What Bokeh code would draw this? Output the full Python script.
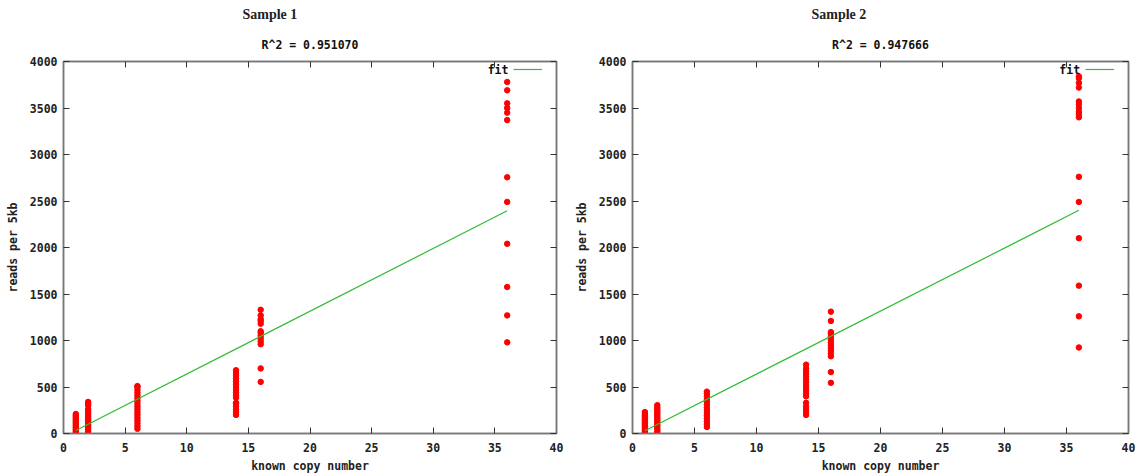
from bokeh.plotting import figure
from bokeh.models import (LinearAxis, Range1d, Title, Label, Legend, LegendItem,
                          FixedTicker, ColumnDataSource)
from bokeh.layouts import row
from bokeh.embed import file_html
from bokeh.resources import INLINE

MONO = "DejaVu Sans Mono"
SERIF = "Liberation Serif"

x_ticks = [0, 5, 10, 15, 20, 25, 30, 35, 40]
y_ticks = [0, 500, 1000, 1500, 2000, 2500, 3000, 3500, 4000]

copy_numbers = [1, 2, 6, 14, 16, 36]

# ---- Sample 1 reads per 5kb, by known copy number ----
s1_cn1 = [0, 15, 30, 45, 60, 75, 90, 105, 120, 135, 150, 165, 180, 195, 210]
s1_cn2 = [0, 20, 40, 60, 80, 100, 120, 140, 160, 180, 200, 220, 240, 260, 300, 320, 340]
s1_cn6 = [50, 80, 110, 140, 170, 200, 230, 260, 290, 320, 350, 380, 410, 440, 470, 500, 510]
s1_cn14 = [200, 230, 260, 290, 320, 330, 385, 410, 440, 470, 500, 530, 560, 590, 620, 650, 680]
s1_cn16 = [555, 700, 960, 990, 1020, 1050, 1080, 1100, 1180, 1210, 1230, 1270, 1330]
s1_cn36 = [980, 1270, 1575, 2040, 2490, 2755, 3370, 3450, 3500, 3550, 3690, 3780]
s1_fit_x = [1, 36]
s1_fit_y = [32, 2395]
s1_r2 = "R^2 = 0.951070"

# ---- Sample 2 ----
s2_cn1 = [0, 15, 30, 45, 60, 75, 90, 105, 120, 135, 150, 165, 180, 195, 210, 230]
s2_cn2 = [0, 20, 40, 60, 80, 100, 120, 140, 160, 180, 200, 220, 240, 260, 280, 305]
s2_cn6 = [70, 100, 130, 160, 190, 220, 250, 280, 310, 340, 370, 400, 430, 450]
s2_cn14 = [200, 230, 260, 290, 330, 400, 430, 460, 490, 520, 550, 580, 610, 640, 670, 700, 740]
s2_cn16 = [545, 660, 830, 860, 890, 920, 950, 980, 1010, 1040, 1070, 1090, 1210, 1310]
s2_cn36 = [925, 1260, 1590, 2100, 2490, 2760, 3400, 3430, 3460, 3500, 3540, 3570, 3720, 3770, 3820, 3840]
s2_fit_x = [1, 36]
s2_fit_y = [30, 2400]
s2_r2 = "R^2 = 0.947666"

# legend text anchor (data units)
fit_label_x = 36.1
fit_label_y = 3905


def style_axis(ax, show_labels=True):
    ax.axis_line_color = "#777777"
    ax.axis_line_width = 1.5
    ax.major_tick_in = 6
    ax.major_tick_out = 0
    ax.major_tick_line_color = "#333333"
    ax.minor_tick_line_color = None
    ax.major_label_text_font = MONO
    ax.major_label_text_font_style = "bold"
    ax.major_label_text_font_size = "11.5px"
    ax.major_label_text_color = "#222222"
    ax.axis_label_text_font = MONO
    ax.axis_label_text_font_style = "bold"
    ax.axis_label_text_font_size = "11.5px"
    ax.axis_label_text_color = "#222222"
    if not show_labels:
        ticks = ax.ticker.ticks
        ax.major_label_overrides = {t: "" for t in ticks}
        ax.major_label_text_color = None
        ax.major_label_text_font_size = "1px"
        ax.major_label_standoff = 0


def make_panel(name, r2, groups, fit_x, fit_y, border_left, border_right):
    p = figure(width=568, height=475, output_backend="svg", toolbar_location=None,
               x_range=Range1d(0, 40), y_range=Range1d(0, 4000),
               min_border_left=border_left, min_border_right=border_right,
               min_border_top=61, min_border_bottom=39)
    p.xgrid.visible = False
    p.ygrid.visible = False
    p.outline_line_color = "#777777"
    p.outline_line_width = 1.5
    p.background_fill_color = "white"
    p.border_fill_color = "white"

    p.xaxis.ticker = FixedTicker(ticks=x_ticks)
    p.yaxis.ticker = FixedTicker(ticks=y_ticks)
    p.xaxis.axis_label = "known copy number"
    p.yaxis.axis_label = "reads per 5kb"
    for ax in p.xaxis + p.yaxis:
        style_axis(ax)
    p.xaxis.major_label_standoff = 9
    p.xaxis.axis_label_standoff = 4
    p.yaxis.major_label_standoff = 6
    p.yaxis.axis_label_standoff = 7

    top = LinearAxis(ticker=FixedTicker(ticks=x_ticks))
    style_axis(top, False)
    p.add_layout(top, "above")
    right = LinearAxis(ticker=FixedTicker(ticks=y_ticks))
    style_axis(right, False)
    p.add_layout(right, "right")

    xs, ys = [], []
    for cn, vals in zip(copy_numbers, groups):
        xs += [cn] * len(vals)
        ys += vals
    src = ColumnDataSource(dict(x=xs, y=ys))
    p.scatter("x", "y", source=src, marker="circle", size=5.5,
              fill_color="#ff0000", line_color="#ff0000")

    fit = p.line(fit_x, fit_y, line_color="#33bb33", line_width=1.2)

    legend = Legend(items=[LegendItem(label=" ", renderers=[fit])],
                    location="top_right", border_line_color=None,
                    background_fill_alpha=0, margin=0, padding=8,
                    glyph_width=29, glyph_height=16, label_height=16,
                    label_width=0, label_standoff=14,
                    label_text_font_size="11.5px", label_text_font=MONO)
    p.add_layout(legend)
    p.add_layout(Label(x=fit_label_x, y=fit_label_y, text="fit", text_align="right",
                       text_baseline="middle", text_font=MONO, text_font_style="bold",
                       text_font_size="11.5px", text_color="#111111"))

    p.add_layout(Title(text=r2, align="center", standoff=20, text_font=MONO,
                       text_font_style="bold", text_font_size="11.5px",
                       text_color="#111111"), "above")
    p.add_layout(Title(text=name, align="left", offset=179, standoff=7, text_font=SERIF,
                       text_font_style="bold", text_font_size="14px",
                       text_color="#222222"), "above")
    return p


p1 = make_panel("Sample 1", s1_r2,
                [s1_cn1, s1_cn2, s1_cn6, s1_cn14, s1_cn16, s1_cn36],
                s1_fit_x, s1_fit_y, 63, 12)
p2 = make_panel("Sample 2", s2_r2,
                [s2_cn1, s2_cn2, s2_cn6, s2_cn14, s2_cn16, s2_cn36],
                s2_fit_x, s2_fit_y, 64, 8)

layout = row(p1, p2)
open("out.html", "w").write(file_html(layout, INLINE))
